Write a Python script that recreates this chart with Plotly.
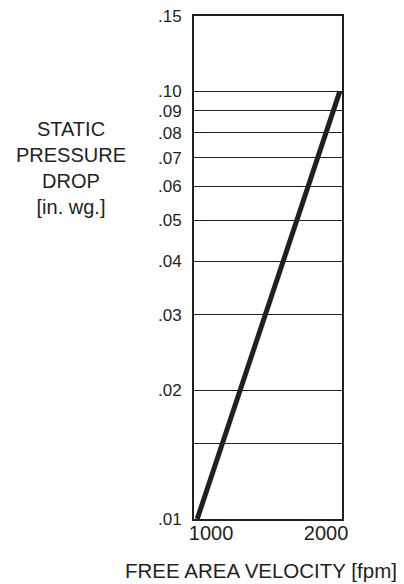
import math
import plotly.graph_objects as go

# Data
velocity = [880, 2120]          # fpm
pressure_drop = [0.01, 0.10]    # in. wg.

y_tick_vals = [0.01, 0.015, 0.02, 0.03, 0.04, 0.05, 0.06, 0.07, 0.08, 0.09, 0.10, 0.15]
y_tick_text = [".01", "", ".02", ".03", ".04", ".05", ".06", ".07", ".08", ".09", ".10", ".15"]
x_tick_vals = [1000, 2000]
x_tick_text = ["1000", "2000"]

ink = "#231f20"
font_family = "Liberation Sans, Arial, Helvetica, sans-serif"

fig = go.Figure()
fig.add_trace(go.Scatter(
    x=velocity, y=pressure_drop, mode="lines",
    line=dict(color=ink, width=5), showlegend=False, hoverinfo="skip",
))

W, H = 404, 584
L, R, T, B = 194, 62, 16, 65
PW, PH = W - L - R, H - T - B

fig.update_layout(
    template="none",
    width=W, height=H,
    margin=dict(l=L, r=R, t=T, b=B, pad=0, autoexpand=False),
    paper_bgcolor="white", plot_bgcolor="white",
    font=dict(family=font_family, size=20, color=ink),
    xaxis=dict(
        type="linear", range=[852, 2139], automargin=False,
        tickmode="array", tickvals=x_tick_vals, ticktext=x_tick_text,
        showgrid=False, zeroline=False, ticks="",
        showline=True, linecolor=ink, linewidth=2, mirror=True,
        ticklabelstandoff=-5, tickfont=dict(size=20),
    ),
    yaxis=dict(
        type="log", range=[math.log10(0.01), math.log10(0.15)], automargin=False,
        tickmode="array", tickvals=y_tick_vals, ticktext=y_tick_text,
        showgrid=True, gridcolor=ink, gridwidth=1,
        zeroline=False, ticks="",
        showline=True, linecolor=ink, linewidth=2, mirror=True,
        ticklabelstandoff=7, tickfont=dict(size=17),
    ),
    annotations=[
        dict(text="STATIC<br>PRESSURE<br>DROP<br>[in. wg.]",
             xref="paper", yref="paper", x=(71 - L) / PW, y=(H - B - 168) / PH,
             xanchor="center", yanchor="middle", showarrow=False, align="center",
             font=dict(size=20, color=ink)),
        dict(text="FREE AREA VELOCITY [fpm]",
             xref="paper", yref="paper", x=(261 - L) / PW, y=(H - B - 570) / PH,
             xanchor="center", yanchor="middle", showarrow=False,
             font=dict(size=20.5, color=ink)),
    ],
)

fig.write_html("out.html", config={"displayModeBar": False})
with open("out.html", "r", encoding="utf-8") as f:
    html = f.read()
html = html.replace("<head>", "<head><style>html,body{margin:0;padding:0;overflow:hidden}</style>", 1)
with open("out.html", "w", encoding="utf-8") as f:
    f.write(html)
